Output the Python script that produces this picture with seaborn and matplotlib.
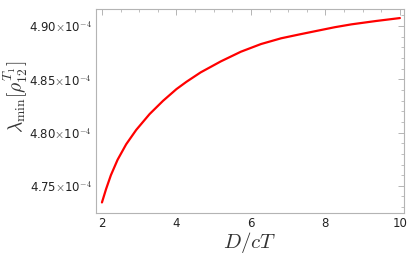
import matplotlib
matplotlib.use("Agg")
import matplotlib.pyplot as plt
import matplotlib.ticker as mticker
import seaborn as sns
import pandas as pd

# values (lambda_min in units of 1e-4)
d_ct = [2.00, 2.11, 2.24, 2.42, 2.65, 2.92, 3.28, 3.64, 4.00, 4.27, 4.65,
        5.19, 5.73, 6.27, 6.81, 7.31, 7.80, 8.25, 8.70, 9.35, 10.0]
lam_min = [4.7344, 4.7469, 4.7600, 4.7745, 4.7890, 4.8025, 4.8174, 4.8298,
           4.8408, 4.8477, 4.8565, 4.8668, 4.8759, 4.8831, 4.8885, 4.8922,
           4.8957, 4.8989, 4.9016, 4.9047, 4.9075]

df = pd.DataFrame({"D/cT": d_ct, "lam": [v * 1e-4 for v in lam_min]})

sns.set_style("white")
plt.rcParams["mathtext.fontset"] = "cm"
plt.rcParams["font.family"] = ["DejaVu Sans"]

fig = plt.figure(figsize=(4.15, 2.61), dpi=100)
ax = fig.add_axes([0.2313, 0.1839, 0.7422, 0.7816])
sns.lineplot(data=df, x="D/cT", y="lam", color="#ff0000", linewidth=1.6, ax=ax)

ax.set_xlim(1.84, 10.11)
ax.set_ylim(4.7245e-4, 4.916e-4)
ax.set_xticks([2, 4, 6, 8, 10])
ax.set_yticks([4.75e-4, 4.80e-4, 4.85e-4, 4.90e-4])
ax.xaxis.set_minor_locator(mticker.MultipleLocator(0.5))
ax.yaxis.set_minor_locator(mticker.MultipleLocator(0.01e-4))
ax.yaxis.set_major_formatter(
    mticker.FuncFormatter(lambda v, p: f"{v * 1e4:.2f}" + r"$\times$10$^{-4}$"))

frame = "#b4b4b4"
for s in ax.spines.values():
    s.set_color(frame)
    s.set_linewidth(0.8)
ax.tick_params(which="both", direction="in", top=True, right=True,
               color=frame, labelsize=8.5, labelcolor="#222222")
ax.tick_params(which="major", length=4, width=0.7, pad=3)
ax.tick_params(which="minor", length=2, width=0.6)

ax.set_xlabel(r"$D/cT$", fontsize=15, color="#333333", labelpad=0)
ax.set_ylabel(r"$\lambda_{\mathrm{min}}[\rho_{12}^{T_1}]$", fontsize=14,
              color="#333333")
ax.yaxis.set_label_coords(-0.215, 0.57)

fig.savefig("out.png", dpi=100)
